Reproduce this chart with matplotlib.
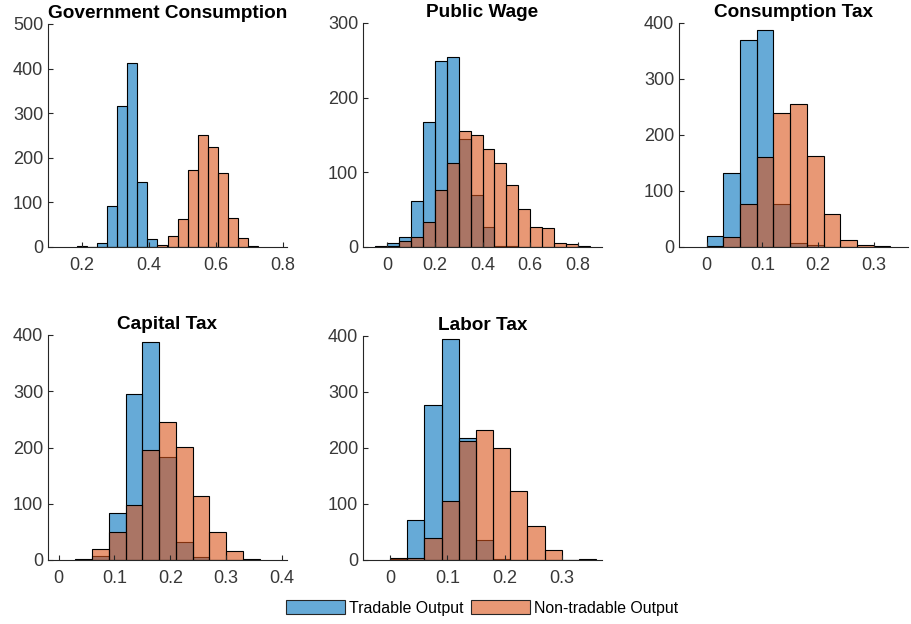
import numpy as np
import matplotlib
matplotlib.use("Agg")
import matplotlib.pyplot as plt
from matplotlib.patches import Patch

plt.rcParams['font.family'] = ['Liberation Sans', 'DejaVu Sans']

titles = ["Government Consumption", "Public Wage", "Consumption Tax",
          "Capital Tax", "Labor Tax"]
series_names = ["Tradable Output", "Non-tradable Output"]

# Histogram bin layout per panel: first edge and bin width
gov_bin_start, gov_bin_width = 0.186, 0.03
wage_bin_start, wage_bin_width = -0.05, 0.05
ctax_bin_start, ctax_bin_width = 0.0, 0.03
ktax_bin_start, ktax_bin_width = 0.03, 0.03
ltax_bin_start, ltax_bin_width = 0.0, 0.03

# Bin counts (tradable, non-tradable) over a shared set of bins per panel
gov_tradable = [2, 0, 8, 93, 317, 413, 145, 18, 0, 0, 0, 0, 0, 0, 0, 0, 0, 0]
gov_nontradable = [0, 0, 0, 0, 0, 0, 0, 0, 4, 25, 62, 172, 250, 225, 167, 66, 20, 3]

wage_tradable = [1, 5, 14, 62, 167, 249, 254, 145, 69, 27, 2, 1, 0, 0, 0, 0, 0, 0]
wage_nontradable = [0, 1, 8, 14, 34, 77, 113, 156, 150, 131, 112, 83, 51, 27, 25, 5, 4, 1]

ctax_tradable = [19, 133, 369, 388, 77, 7, 3, 0, 0, 0, 0]
ctax_nontradable = [1, 17, 77, 160, 240, 256, 162, 59, 12, 3, 2]

ktax_tradable = [1, 8, 83, 295, 387, 184, 32, 5, 0, 0, 0]
ktax_nontradable = [0, 20, 49, 98, 196, 245, 201, 114, 50, 16, 2]

ltax_tradable = [1, 71, 276, 395, 217, 36, 1, 0, 0, 0, 0, 0]
ltax_nontradable = [4, 4, 40, 106, 212, 232, 200, 123, 60, 17, 0, 2]

# Axis limits and ticks
xlims = [(0.1, 0.812), (-0.1, 0.9), (-0.05, 0.362), (-0.019, 0.409), (-0.047, 0.37)]
xticks = [[0.2, 0.4, 0.6, 0.8], [0, 0.2, 0.4, 0.6, 0.8], [0, 0.1, 0.2, 0.3],
          [0, 0.1, 0.2, 0.3, 0.4], [0, 0.1, 0.2, 0.3]]
ylims = [500, 300, 400, 400, 400]

panels = [
    (gov_bin_start, gov_bin_width, gov_tradable, gov_nontradable),
    (wage_bin_start, wage_bin_width, wage_tradable, wage_nontradable),
    (ctax_bin_start, ctax_bin_width, ctax_tradable, ctax_nontradable),
    (ktax_bin_start, ktax_bin_width, ktax_tradable, ktax_nontradable),
    (ltax_bin_start, ltax_bin_width, ltax_tradable, ltax_nontradable),
]

blue = (0.0, 0.447, 0.741)
orange = (0.85, 0.325, 0.098)
axis_gray = (0.15, 0.15, 0.15)
label_gray = (0.22, 0.22, 0.22)

W, H = 911, 624
fig = plt.figure(figsize=(W / 100, H / 100), dpi=100)

# axes boxes in pixels: left, right, top, bottom
boxes = [(48, 287, 24, 247), (363, 602, 23, 247), (679, 908, 23, 247),
         (48, 287, 335, 560), (363, 602, 336, 560)]

for i, (start, width, trad, nontrad) in enumerate(panels):
    l, r, t, b = boxes[i]
    ax = fig.add_axes([l / W, 1 - b / H, (r - l) / W, (b - t) / H])
    n = len(trad)
    edges = start + width * np.arange(n + 1)
    ax.bar(edges[:-1], trad, width=width, align='edge', color=blue, alpha=0.6,
           edgecolor='none')
    ax.bar(edges[:-1], trad, width=width, align='edge', fill=False,
           edgecolor='black', linewidth=0.8)
    ax.bar(edges[:-1], nontrad, width=width, align='edge', color=orange, alpha=0.6,
           edgecolor='none')
    ax.bar(edges[:-1], nontrad, width=width, align='edge', fill=False,
           edgecolor='black', linewidth=0.8)
    ax.set_xlim(*xlims[i])
    ax.set_ylim(0, ylims[i])
    ax.set_xticks(xticks[i])
    ax.set_xticklabels([f"{v:g}" for v in xticks[i]])
    ax.set_yticks(np.arange(0, ylims[i] + 1, 100))
    for side in ("top", "right"):
        ax.spines[side].set_visible(False)
    for side in ("left", "bottom"):
        ax.spines[side].set_color(axis_gray)
        ax.spines[side].set_linewidth(0.8)
    ax.tick_params(direction='in', length=3.5, width=0.8, color=axis_gray,
                   labelcolor=label_gray, labelsize=13)
    ax.tick_params(axis='x', pad=7)
    ax.tick_params(axis='y', pad=3.5)
    ax.set_title(titles[i], fontsize=13.7, fontweight='bold', pad=4)

handles = [Patch(facecolor=tuple(0.4 + 0.6 * c for c in blue),
                 edgecolor=axis_gray, linewidth=0.8),
           Patch(facecolor=tuple(0.4 + 0.6 * c for c in orange),
                 edgecolor=axis_gray, linewidth=0.8)]
fig.legend(handles, series_names, loc='center', bbox_to_anchor=(482 / W, 1 - 608 / H),
           ncol=2, frameon=False, fontsize=11.4, handlelength=3.7, handleheight=1.0,
           handletextpad=0.25, columnspacing=0.5, borderpad=0.2)

fig.savefig("out.png", dpi=100)
